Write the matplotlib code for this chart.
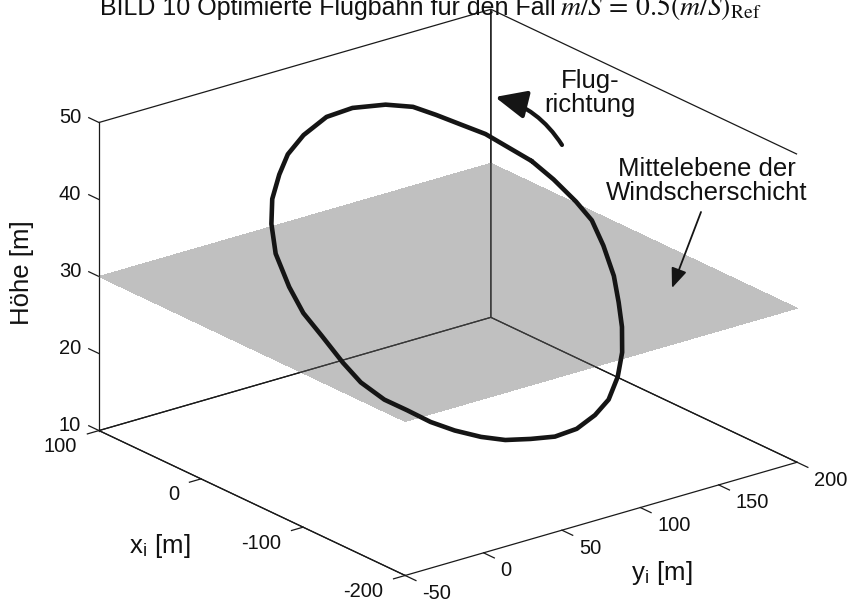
import matplotlib
matplotlib.use("Agg")
import matplotlib.pyplot as plt
import numpy as np
from matplotlib.patches import FancyArrowPatch
from mpl_toolkits.mplot3d import proj3d

plt.rcParams['font.family'] = ['Liberation Sans', 'DejaVu Sans']
plt.rcParams['mathtext.fontset'] = 'stix'
plt.rcParams['axes.unicode_minus'] = False
plt.rcParams['xtick.major.width'] = 0.9
plt.rcParams['ytick.major.width'] = 0.9
plt.rcParams['text.color'] = '#111111'

# optimierte Flugbahn (Inertialsystem), geschlossene Schleife
x_i = [-29, -11, 7, 23, 40, 55, 68, 82, 89, 90,
       87, 80, 70, 57, 39, 15, -5, -26, -50, -69,
       -89, -105, -122, -138, -153, -166, -177, -187, -193, -194,
       -192, -184, -173, -159, -145, -128, -107, -88, -71, -49]
y_i = [142, 139, 136, 131, 126, 121, 112, 100, 88, 74,
       62, 52, 41, 32, 23, 16, 12, 10, 8, 7,
       9, 13, 17, 22, 29, 36, 45, 54, 64, 75,
       85, 96, 106, 115, 122, 130, 137, 142, 143, 143]
hoehe = [41.8, 42.6, 43.4, 43.9, 44.4, 44.8, 44.8, 44.2, 43.3, 41.7,
         40.1, 38.5, 36.6, 34.7, 32.5, 30.1, 28.2, 26.7, 24.8, 23.5,
         22.4, 21.8, 21.1, 20.7, 20.4, 20.4, 20.7, 21.1, 21.9, 23.1,
         24.4, 26.2, 28.1, 30.0, 31.9, 33.8, 36.0, 37.8, 39.1, 40.6]

# Mittelebene der Windscherschicht
h_mitte = 30.0

x_lim = (-200, 100)
y_lim = (-50, 200)
z_lim = (10, 50)
x_ticks = [-200, -100, 0, 100]
y_ticks = [-50, 0, 50, 100, 150, 200]
z_ticks = [10, 20, 30, 40, 50]

W, H = 855, 601
fig = plt.figure(figsize=(W / 100, H / 100), dpi=100)
fig.patch.set_facecolor('white')


def fp(px, py):
    # Pixel (von oben links) -> figure fraction
    return px / W, 1 - py / H


ax = fig.add_axes([0.163, 0.0, 0.703, 1.0], projection='3d',
                  proj_type='ortho', computed_zorder=False)
ax.patch.set_alpha(0)
ax.view_init(elev=21.7, azim=-38)
ax.set_box_aspect((1.5, 1.5, 1), zoom=1.256)
ax.set_xlim(x_lim[1], x_lim[0])
ax.set_ylim(*y_lim)
ax.set_zlim(*z_lim)
ax.set_xticks(x_ticks)
ax.set_yticks(y_ticks)
ax.set_zticks(z_ticks)
ax.zaxis.set_ticks_position('lower')
ax.grid(False)
ax.tick_params(axis='both', colors='#1a1a1a')

edge = '#1a1a1a'
for axis in (ax.xaxis, ax.yaxis, ax.zaxis):
    axis.set_tick_params(label1On=False)
    axis.label.set_visible(False)
    axis.set_pane_color((1, 1, 1, 0))
    axis.pane.set_alpha(None)
    axis.pane.set_facecolor((1, 1, 1, 0))
    axis.pane.set_edgecolor(edge)
    axis.pane.set_linewidth(0.9)
    axis.line.set_color(edge)
    axis.line.set_linewidth(0.9)
    axis._axinfo['tick']['outward_factor'] = 0.0

# Teilstriche nach außen
ax.xaxis._axinfo['tick']['inward_factor'] = 0.37
ax.yaxis._axinfo['tick']['inward_factor'] = 0.44
ax.zaxis._axinfo['tick']['inward_factor'] = 0.0
for zt in z_ticks:
    ax.plot([x_lim[1], x_lim[1] + 10], [y_lim[0], y_lim[0]], [zt, zt],
            color=edge, lw=0.9, zorder=1, clip_on=False)

# Achsenzahlen: Position im Raum, projiziert in die Zeichenebene
M = ax.get_proj()


def tick_labels(xs, ys, zs, texts, ha):
    u, v, _ = proj3d.proj_transform(np.asarray(xs, float), np.asarray(ys, float),
                                    np.asarray(zs, float), M)
    for a, b, s in zip(u, v, texts):
        ax.text2D(a, b, s, transform=ax.transData, fontsize=14.5,
                  ha=ha, va='center', zorder=6)


n = len(x_ticks)
tick_labels(x_ticks, [y_lim[0] - 14] * n, [z_lim[0] - 1.25] * n,
            [str(t) for t in x_ticks], 'right')
n = len(y_ticks)
tick_labels([x_lim[0] - 16.5] * n, y_ticks, [z_lim[0] - 1.3] * n,
            [str(t) for t in y_ticks], 'left')
n = len(z_ticks)
tick_labels([x_lim[1] + 17.4] * n, [y_lim[0]] * n, [t - 0.45 for t in z_ticks],
            [str(t) for t in z_ticks], 'right')

# graue Ebene bei h = 30 m
px_, py_ = np.meshgrid(x_lim, y_lim)
pz_ = np.full(px_.shape, h_mitte)
ebene = ax.plot_surface(px_, py_, pz_, color='#636363', alpha=0.4,
                        shade=False, linewidth=0, antialiased=False, zorder=2)
ebene.set_clip_on(False)

# Flugbahn
bahn, = ax.plot(x_i + x_i[:1], y_i + y_i[:1], hoehe + hoehe[:1],
                color='#151515', lw=3.3, zorder=5, solid_capstyle='round')
bahn.set_clip_on(False)

# Achsenbeschriftungen
fig.text(*fp(22, 273), 'Höhe [m]', rotation=90, fontsize=18.5,
         ha='center', va='center')
fig.text(*fp(160, 546), r'x$_\mathregular{i}$ [m]', fontsize=18.5,
         ha='center', va='center')
fig.text(*fp(662, 573), r'y$_\mathregular{i}$ [m]', fontsize=18.5,
         ha='center', va='center')

# Titel (oben angeschnitten)
fig.text(*fp(100, 15), 'BILD 10 Optimierte Flugbahn für den Fall',
         fontsize=18, ha='left', va='baseline')
fig.text(*fp(560, 15), r'$m/S\,=\,0.5(m/S)_\mathrm{Ref}$', fontsize=20,
         ha='left', va='baseline')

# Hinweise
fig.text(*fp(590, 93), 'Flug-\nrichtung', fontsize=18.5, ha='center',
         va='center', linespacing=1.0)
fig.text(*fp(707, 181), 'Mittelebene der\nWindscherschicht', fontsize=18.5,
         ha='center', va='center', linespacing=1.0)

fig.add_artist(FancyArrowPatch(fp(562, 145), fp(495, 97),
                               transform=fig.transFigure,
                               arrowstyle='-|>,head_length=1.0,head_width=0.45',
                               mutation_scale=19, lw=3, color='#151515',
                               connectionstyle='arc3,rad=0.2',
                               shrinkA=0, shrinkB=0))
fig.add_artist(FancyArrowPatch(fp(701, 212), fp(672, 288),
                               transform=fig.transFigure,
                               arrowstyle='-|>,head_length=1.0,head_width=0.4',
                               mutation_scale=12, lw=1.3, color='#151515',
                               shrinkA=0, shrinkB=0))

fig.savefig('out.png', dpi=100, facecolor='white')
